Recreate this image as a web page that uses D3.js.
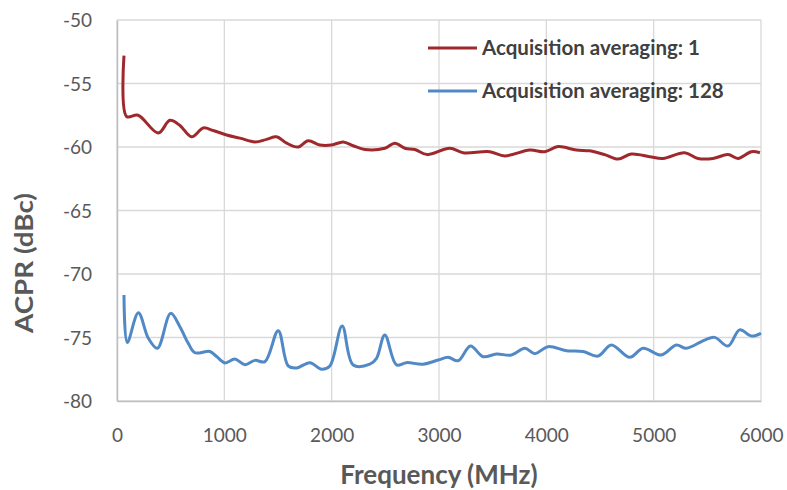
<!DOCTYPE html>
<head>
    <meta charset="utf-8">
    <style type="text/css">
    body { margin: 0; background: #fff; }
    text { font-family: Lato, "Open Sans", sans-serif; }
    </style>
</head>
<body>
    <div id="my_dataviz"></div>
    <script src="https://d3js.org/d3.v7.min.js"></script>
    <script type="text/javascript">

    // data
    var redFreq = [65, 90, 196, 385, 493, 586, 695, 804, 895, 1021, 1145, 1285, 1394, 1487, 1580, 1688, 1781, 1890, 1999, 2107, 2200, 2309, 2495, 2588, 2682, 2775, 2890, 3101, 3225, 3473, 3613, 3845, 3985, 4110, 4280, 4404, 4544, 4668, 4792, 4963, 5087, 5289, 5413, 5553, 5693, 5786, 5910, 5990];
    var redVals = [-52.8, -57.6, -57.5, -58.9, -57.9, -58.3, -59.2, -58.5, -58.7, -59.05, -59.3, -59.6, -59.4, -59.2, -59.7, -60.0, -59.5, -59.85, -59.85, -59.6, -59.9, -60.2, -60.1, -59.7, -60.1, -60.2, -60.6, -60.1, -60.45, -60.37, -60.7, -60.24, -60.37, -59.97, -60.24, -60.3, -60.6, -60.95, -60.55, -60.76, -60.9, -60.45, -60.9, -60.9, -60.6, -60.9, -60.37, -60.45];

    var blueFreq = [65, 96, 199, 292, 376, 500, 586, 664, 726, 866, 928, 1006, 1099, 1192, 1285, 1378, 1502, 1595, 1673, 1797, 1906, 1983, 2098, 2200, 2356, 2418, 2495, 2604, 2697, 2852, 2993, 3085, 3178, 3293, 3411, 3535, 3675, 3799, 3892, 4016, 4187, 4342, 4482, 4606, 4777, 4901, 5071, 5211, 5304, 5475, 5568, 5693, 5801, 5910, 6000];
    var blueVals = [-71.65, -75.4, -73.05, -75.06, -75.85, -73.1, -74.15, -75.46, -76.2, -76.1, -76.5, -77.0, -76.7, -77.15, -76.8, -76.9, -74.46, -77.24, -77.4, -76.98, -77.5, -77.24, -74.1, -77.16, -77.1, -76.64, -74.8, -77.16, -76.98, -77.1, -76.77, -76.56, -76.83, -75.67, -76.51, -76.3, -76.38, -75.85, -76.27, -75.72, -76.04, -76.1, -76.46, -75.59, -76.56, -75.85, -76.38, -75.59, -75.85, -75.2, -74.99, -75.67, -74.4, -74.88, -74.67];

    var seriesNames = ["Acquisition averaging: 1", "Acquisition averaging: 128"];
    var seriesColors = ["#9f282d", "#5189c6"];
    var xTicks = [0, 1000, 2000, 3000, 4000, 5000, 6000];
    var yTicks = [-50, -55, -60, -65, -70, -75, -80];

    var W = 787, H = 490;
    var margin = {top: 20, right: 26, bottom: 89, left: 117};
    var width = W - margin.left - margin.right,
        height = H - margin.top - margin.bottom;

    var svg = d3.select("#my_dataviz")
      .append("svg")
        .attr("width", W)
        .attr("height", H);
    var g = svg.append("g")
        .attr("transform", "translate(" + margin.left + "," + margin.top + ")");

    var x = d3.scaleLinear().domain([0, 6000]).range([0, width]);
    var y = d3.scaleLinear().domain([-80, -50]).range([height, 0]);

    // grid
    g.append("g")
      .selectAll("line")
      .data(yTicks)
      .enter().append("line")
        .attr("x1", 0).attr("x2", width)
        .attr("y1", d => y(d)).attr("y2", d => y(d))
        .attr("stroke", "#d9d9d9").attr("stroke-width", 1.3);
    g.append("g")
      .selectAll("line")
      .data(xTicks)
      .enter().append("line")
        .attr("x1", d => x(d)).attr("x2", d => x(d))
        .attr("y1", 0).attr("y2", height)
        .attr("stroke", "#d9d9d9").attr("stroke-width", 1.3);

    // axes
    var xAxis = g.append("g")
      .attr("transform", "translate(0," + height + ")")
      .call(d3.axisBottom(x).tickValues(xTicks).tickSize(0).tickPadding(28).tickFormat(d3.format("d")));
    var yAxis = g.append("g")
      .call(d3.axisLeft(y).tickValues(yTicks).tickSize(0).tickPadding(25).tickFormat(d => d));
    [xAxis, yAxis].forEach(function(a) {
      a.select(".domain").attr("stroke", "#bfbfbf").attr("stroke-width", 1.5);
      a.selectAll("text")
        .style("font-family", "Lato, sans-serif")
        .style("font-size", "19px")
        .attr("fill", "#595959");
    });
    xAxis.selectAll("text").attr("dy", "0.71em");
    yAxis.selectAll("text").attr("dy", "0.36em");

    // titles
    svg.append("text")
      .attr("x", margin.left + width / 2)
      .attr("y", 484)
      .attr("text-anchor", "middle")
      .style("font-size", "26px")
      .style("font-weight", "bold")
      .attr("fill", "#595959")
      .text("Frequency (MHz)");
    svg.append("text")
      .attr("transform", "translate(33,263) rotate(-90)")
      .attr("text-anchor", "middle")
      .attr("textLength", 140)
      .attr("lengthAdjust", "spacingAndGlyphs")
      .style("font-size", "25px")
      .style("font-weight", "bold")
      .attr("fill", "#595959")
      .text("ACPR (dBc)");

    // lines
    var line = d3.line()
      .x(d => x(d[0]))
      .y(d => y(d[1]))
      .curve(d3.curveCatmullRom.alpha(0.5));
    var series = [d3.zip(redFreq, redVals), d3.zip(blueFreq, blueVals)];
    g.selectAll(".series")
      .data(series)
      .enter().append("path")
        .attr("class", "series")
        .attr("d", line)
        .attr("fill", "none")
        .attr("stroke", (d, i) => seriesColors[i])
        .attr("stroke-width", 3)
        .attr("stroke-linejoin", "round");

    // legend
    var leg = svg.append("g").attr("transform", "translate(428,48)");
    var item = leg.selectAll("g")
      .data(seriesNames)
      .enter().append("g")
        .attr("transform", (d, i) => "translate(0," + i * 43 + ")");
    item.append("line")
      .attr("x1", 0).attr("x2", 49)
      .attr("stroke", (d, i) => seriesColors[i])
      .attr("stroke-width", 3);
    item.append("text")
      .attr("x", 54)
      .attr("dy", "0.36em")
      .style("font-size", "20.5px")
      .style("font-weight", "bold")
      .attr("fill", "#404040")
      .text(d => d);

    </script>
</body>
